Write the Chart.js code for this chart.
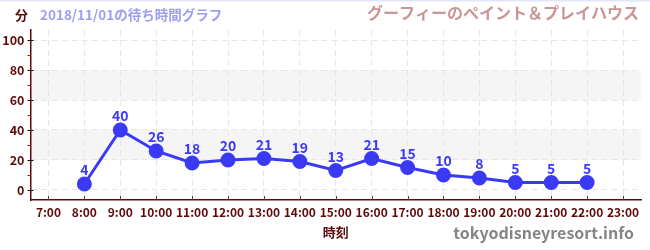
<!DOCTYPE html>
<html><head><meta charset="utf-8">
<script src="https://cdn.jsdelivr.net/npm/chart.js@4/dist/chart.umd.min.js"></script>
<style>
html,body{margin:0;padding:0;background:#fff;}
#wrap{width:650px;height:250px;position:relative;}
</style></head>
<body><div id="wrap"><canvas id="c" width="650" height="250"></canvas></div>
<script>
const hourLabels = ["7:00","8:00","9:00","10:00","11:00","12:00","13:00","14:00","15:00","16:00","17:00","18:00","19:00","20:00","21:00","22:00","23:00"];
const waitTimes = [null,4,40,26,18,20,21,19,13,21,15,10,8,5,5,5,null];
const yTicks = [0,20,40,60,80,100];
const yMinorTicks = [10,30,50,70,90];
const bands = [[20,40],[60,80]];
const unitLabel = "分";
const subTitle = "2018/11/01の待ち時間グラフ";
const attraction = "グーフィーのペイント＆プレイハウス";
const xTitle = "時刻";
const watermark = "tokyodisneyresort.info";

const FONT = '"Noto Sans CJK JP", "Noto Sans", sans-serif';
const DARK = '#5e0a0a';
const LINE = '#3a3af5';

const deco = {
  id:'deco',
  beforeDraw(chart){
    const {ctx, chartArea:a, scales:{x,y}} = chart;
    ctx.save();
    ctx.fillStyle = '#f5f5f5';
    bands.forEach(([lo,hi])=>{
      const t=y.getPixelForValue(hi), b=y.getPixelForValue(lo);
      ctx.fillRect(a.left, t, a.right-a.left, b-t);
    });
    ctx.fillStyle='#e4e4fa';
    ctx.fillRect(0,0,650,1.5);
    ctx.restore();
  },
  afterDraw(chart){
    const {ctx, chartArea:a, scales:{x,y}} = chart;
    ctx.save();
    ctx.lineWidth=1;
    ctx.strokeStyle='#111';
    yTicks.forEach(v=>{
      const p=Math.round(y.getPixelForValue(v))+0.5;
      ctx.beginPath();ctx.moveTo(a.left-3,p);ctx.lineTo(a.left+3,p);ctx.stroke();
    });
    ctx.strokeStyle='#e00000';
    yMinorTicks.forEach(v=>{
      const p=Math.round(y.getPixelForValue(v))+0.5;
      ctx.beginPath();ctx.moveTo(a.left-3,p);ctx.lineTo(a.left,p);ctx.stroke();
    });
    ctx.strokeStyle='#444';
    hourLabels.forEach((l,i)=>{
      const p=Math.round(x.getPixelForValue(i))+0.5;
      ctx.beginPath();ctx.moveTo(p,a.bottom-4);ctx.lineTo(p,a.bottom);ctx.stroke();
    });
    ctx.fillStyle=LINE;
    ctx.font='bold 14px '+FONT;
    ctx.textAlign='center';ctx.textBaseline='middle';
    const meta=chart.getDatasetMeta(0);
    meta.data.forEach((pt,i)=>{
      const v=waitTimes[i];
      if(v==null) return;
      ctx.fillText(String(v), pt.x, pt.y-14);
    });
    ctx.textAlign='left';
    ctx.fillStyle=DARK;
    ctx.font='bold 13px '+FONT;
    ctx.fillText(unitLabel, 15, 15);
    ctx.fillStyle='#9d9df2';
    ctx.font='bold 13.5px '+FONT;
    ctx.fillText(subTitle, 40, 15);
    ctx.textAlign='right';
    ctx.fillStyle='#c99595';
    ctx.font='bold 16px '+FONT;
    ctx.fillText(attraction, 639, 13);
    ctx.textAlign='center';
    ctx.fillStyle=DARK;
    ctx.font='bold 13px '+FONT;
    ctx.fillText(xTitle, (a.left+a.right)/2, 232);
    ctx.textAlign='right';
    ctx.fillStyle='#858585';
    ctx.font='bold 16px '+FONT;
    ctx.fillText(watermark, 634, 233);
    ctx.restore();
  }
};

new Chart(document.getElementById('c'), {
  type:'line',
  data:{labels:hourLabels, datasets:[{
    data:waitTimes, borderColor:LINE, backgroundColor:LINE,
    borderWidth:3, pointRadius:6, pointHoverRadius:6, spanGaps:false, tension:0
  }]},
  options:{
    responsive:false, animation:false, devicePixelRatio:1,
    layout:{padding:{top:30,left:0,right:9,bottom:0}},
    plugins:{legend:{display:false}, tooltip:{enabled:false}},
    scales:{
      x:{
        type:'category', offset:true,
        afterFit(s){ s.height=50; },
        grid:{color:'#e6e6e6', drawTicks:false, tickLength:0, offset:false},
        border:{color:DARK, width:1.5, dash:[6,4], display:true},
        ticks:{color:DARK, font:{family:FONT, size:12, weight:'bold'}, padding:5, maxRotation:0, autoSkip:false}
      },
      y:{
        min:-6.67, max:106.67,
        afterFit(s){ s.width=30.5; },
        afterBuildTicks(s){ s.ticks = yTicks.map(v=>({value:v})); },
        grid:{color:'#e6e6e6', drawTicks:false, tickLength:0},
        border:{color:DARK, width:1.5, dash:[6,4]},
        ticks:{color:DARK, font:{family:FONT, size:12.5, weight:'bold'}, padding:6}
      }
    }
  },
  plugins:[deco]
});
</script></body></html>
